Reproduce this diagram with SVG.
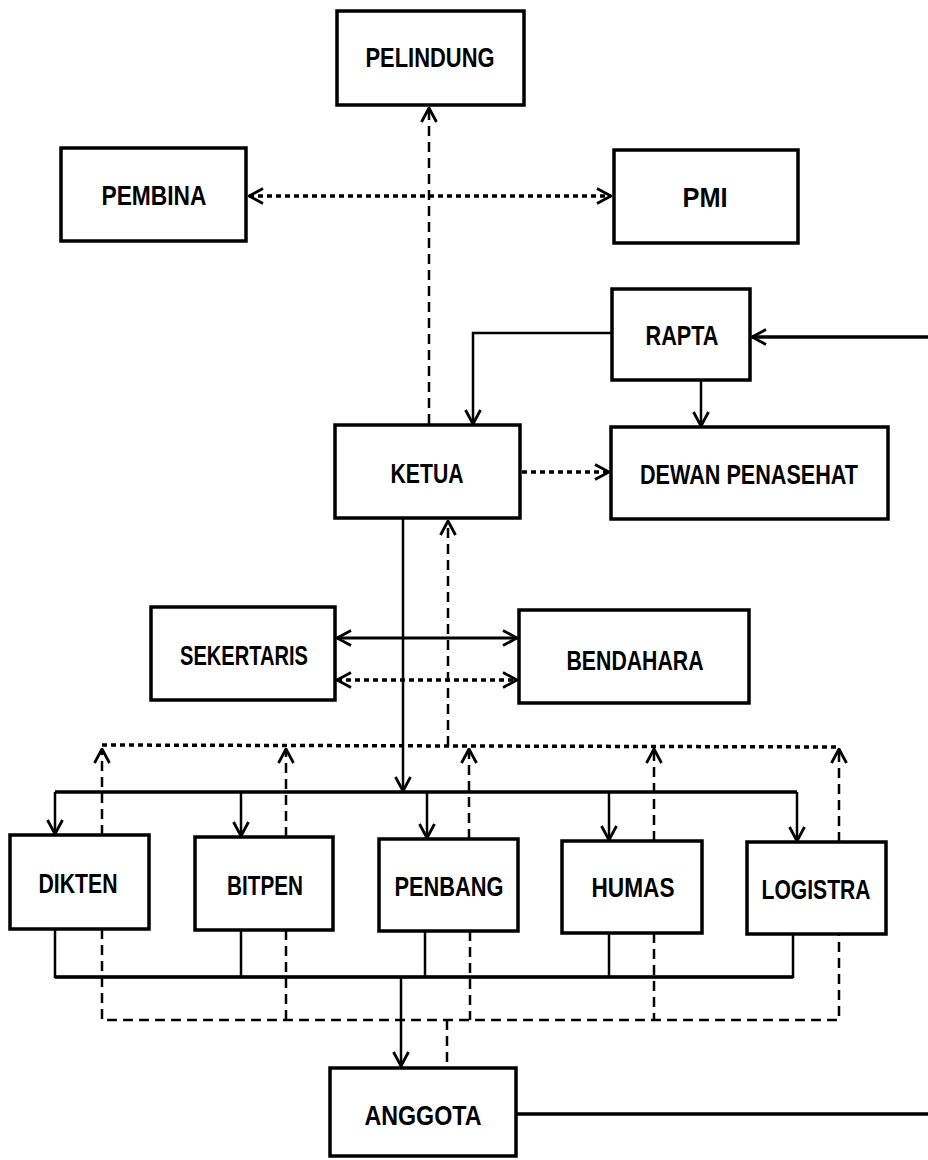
<svg xmlns="http://www.w3.org/2000/svg" width="928" height="1160" viewBox="0 0 928 1160">
<style>
.box{fill:#fff;stroke:#000;stroke-width:3.5}
.t{font-family:"Liberation Sans Narrow","Liberation Sans",Arial,sans-serif;font-weight:bold;font-size:28px;fill:#000;text-anchor:middle}
.s{fill:none;stroke:#000;stroke-width:2.5}
.d{fill:none;stroke:#000;stroke-width:2.5;stroke-dasharray:10,6}
.o{fill:none;stroke:#000;stroke-width:3.5;stroke-dasharray:5,4}
</style>
<defs>
<marker id="a" viewBox="0 0 16 18" refX="15" refY="9" markerWidth="16" markerHeight="18" markerUnits="userSpaceOnUse" orient="auto-start-reverse">
<path d="M1,1.5 L15,9 L1,16.5" fill="none" stroke="#000" stroke-width="2.8"/>
</marker>
</defs>
<g id="connectors">
<line class="d" x1="429" y1="424" x2="429" y2="108" marker-end="url(#a)"/>
<line class="o" x1="249" y1="196" x2="611" y2="196" marker-start="url(#a)" marker-end="url(#a)"/>
<polyline class="s" points="612,333 473,333 473,424" marker-end="url(#a)"/>
<line class="s" x1="928" y1="337" x2="752" y2="337" style="stroke-width:3.5" marker-end="url(#a)"/>
<line class="s" x1="701" y1="380" x2="701" y2="426" marker-end="url(#a)"/>
<line class="o" x1="522" y1="472" x2="609" y2="472" marker-end="url(#a)"/>
<line class="s" x1="403" y1="519" x2="403" y2="791" marker-end="url(#a)"/>
<line class="d" x1="448" y1="746" x2="448" y2="521" marker-end="url(#a)"/>
<line class="s" x1="337" y1="638" x2="517" y2="638" style="stroke-width:3" marker-start="url(#a)" marker-end="url(#a)"/>
<line class="o" x1="337" y1="680" x2="517" y2="680" marker-start="url(#a)" marker-end="url(#a)"/>
<polyline class="o" points="102,745 839,747"/>
<line class="d" x1="102" y1="835" x2="102" y2="749" marker-end="url(#a)"/>
<line class="d" x1="286" y1="837" x2="286" y2="749" marker-end="url(#a)"/>
<line class="d" x1="469" y1="839" x2="469" y2="749" marker-end="url(#a)"/>
<line class="d" x1="654" y1="841" x2="654" y2="749" marker-end="url(#a)"/>
<line class="d" x1="839" y1="842" x2="839" y2="749" marker-end="url(#a)"/>
<line class="s" x1="55" y1="792" x2="797" y2="792" style="stroke-width:3.5"/>
<line class="s" x1="55" y1="792" x2="55" y2="834" marker-end="url(#a)"/>
<line class="s" x1="241" y1="792" x2="241" y2="836" marker-end="url(#a)"/>
<line class="s" x1="427" y1="792" x2="427" y2="838" marker-end="url(#a)"/>
<line class="s" x1="609" y1="792" x2="609" y2="840" marker-end="url(#a)"/>
<line class="s" x1="797" y1="792" x2="797" y2="841" marker-end="url(#a)"/>
<polyline class="s" points="55,929 55,977 793,977 793,934"/>
<line class="s" x1="55" y1="977" x2="793" y2="977" style="stroke-width:3.5"/>
<line class="s" x1="241" y1="930" x2="241" y2="977"/>
<line class="s" x1="425" y1="931" x2="425" y2="977"/>
<line class="s" x1="609" y1="933" x2="609" y2="977"/>
<polyline class="d" points="102,929 102,1020 839,1020 839,934"/>
<line class="d" x1="286" y1="930" x2="286" y2="1020"/>
<line class="d" x1="470" y1="931" x2="470" y2="1020"/>
<line class="d" x1="654" y1="933" x2="654" y2="1020"/>
<line class="s" x1="401" y1="977" x2="401" y2="1066" marker-end="url(#a)"/>
<line class="d" x1="447" y1="1020" x2="447" y2="1068"/>
<line class="s" x1="516" y1="1114" x2="928" y2="1114" style="stroke-width:3.5"/>
</g>
<g id="pelindung"><rect class="box" x="337" y="11" width="187" height="94"/><text class="t" x="430" y="67" textLength="129" lengthAdjust="spacingAndGlyphs">PELINDUNG</text></g>
<g id="pembina"><rect class="box" x="61" y="148" width="185" height="93"/><text class="t" x="154" y="205" textLength="105" lengthAdjust="spacingAndGlyphs">PEMBINA</text></g>
<g id="pmi"><rect class="box" x="614" y="150" width="184" height="93"/><text class="t" x="705" y="207" textLength="45" lengthAdjust="spacingAndGlyphs">PMI</text></g>
<g id="rapta"><rect class="box" x="612" y="289" width="138" height="91"/><text class="t" x="682" y="345" textLength="73" lengthAdjust="spacingAndGlyphs">RAPTA</text></g>
<g id="ketua"><rect class="box" x="335" y="425" width="185" height="93"/><text class="t" x="427" y="483" textLength="73" lengthAdjust="spacingAndGlyphs">KETUA</text></g>
<g id="dewan-penasehat"><rect class="box" x="611" y="427" width="277" height="92"/><text class="t" x="749" y="484" textLength="218" lengthAdjust="spacingAndGlyphs">DEWAN PENASEHAT</text></g>
<g id="sekertaris"><rect class="box" x="151" y="607" width="184" height="93"/><text class="t" x="244" y="665" textLength="128" lengthAdjust="spacingAndGlyphs">SEKERTARIS</text></g>
<g id="bendahara"><rect class="box" x="519" y="610" width="230" height="93"/><text class="t" x="635" y="670" textLength="137" lengthAdjust="spacingAndGlyphs">BENDAHARA</text></g>
<g id="dikten"><rect class="box" x="10" y="835" width="139" height="94"/><text class="t" x="78" y="893" textLength="79" lengthAdjust="spacingAndGlyphs">DIKTEN</text></g>
<g id="bitpen"><rect class="box" x="195" y="837" width="138" height="93"/><text class="t" x="265" y="895" textLength="76" lengthAdjust="spacingAndGlyphs">BITPEN</text></g>
<g id="penbang"><rect class="box" x="379" y="839" width="139" height="92"/><text class="t" x="449" y="896" textLength="109" lengthAdjust="spacingAndGlyphs">PENBANG</text></g>
<g id="humas"><rect class="box" x="562" y="841" width="140" height="92"/><text class="t" x="633" y="897" textLength="83" lengthAdjust="spacingAndGlyphs">HUMAS</text></g>
<g id="logistra"><rect class="box" x="747" y="842" width="139" height="92"/><text class="t" x="816" y="899" textLength="109" lengthAdjust="spacingAndGlyphs">LOGISTRA</text></g>
<g id="anggota"><rect class="box" x="330" y="1068" width="186" height="88"/><text class="t" x="423" y="1125" textLength="117" lengthAdjust="spacingAndGlyphs">ANGGOTA</text></g>
</svg>
